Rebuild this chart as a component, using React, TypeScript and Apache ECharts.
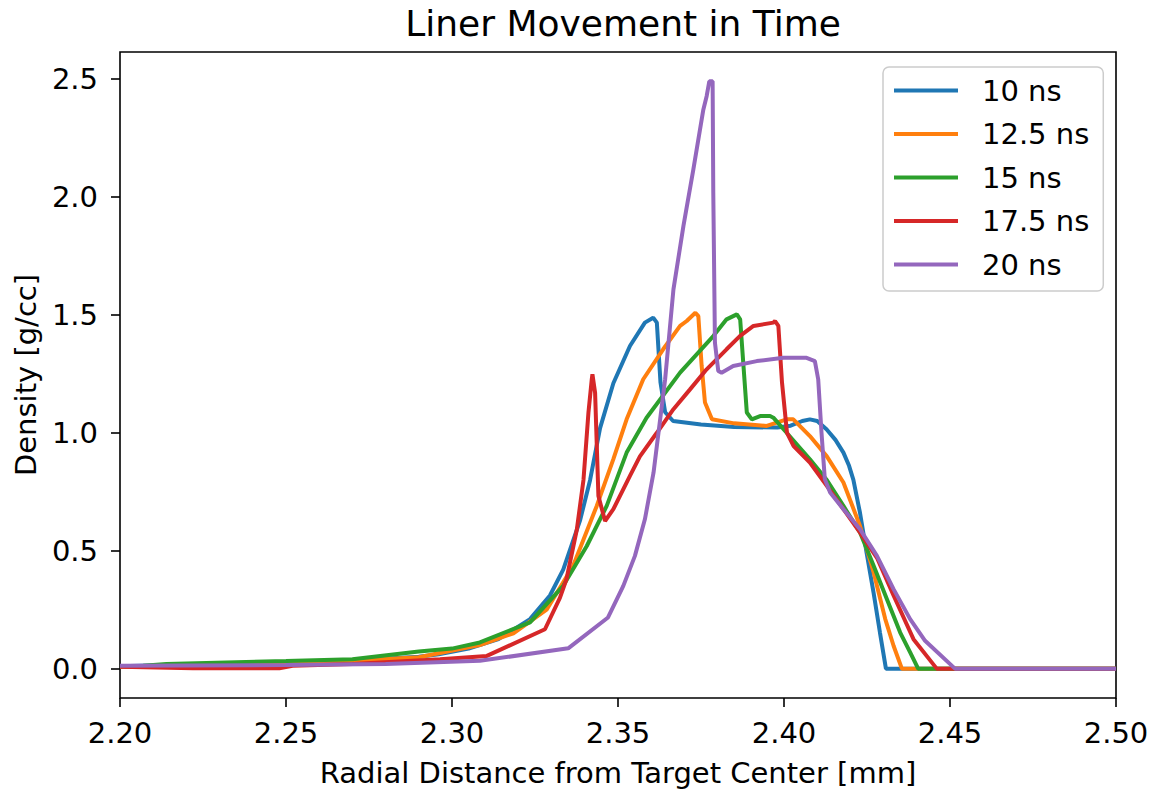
import React, { useEffect, useRef } from "react";
import * as echarts from "echarts";

const seriesNames = ["10 ns", "12.5 ns", "15 ns", "17.5 ns", "20 ns"];
const seriesColors = ["#1f77b4", "#ff7f0e", "#2ca02c", "#d62728", "#9467bd"];

const xTicks = [2.2, 2.25, 2.3, 2.35, 2.4, 2.45, 2.5];
const yTicks = [0, 0.5, 1.0, 1.5, 2.0, 2.5];

const x10 = [2.2, 2.215, 2.25, 2.27, 2.29, 2.296, 2.305, 2.314, 2.3235, 2.3295, 2.3335, 2.3386, 2.3416, 2.3446, 2.3486, 2.3536, 2.3581, 2.3606, 2.3617, 2.3628, 2.3642, 2.3666, 2.375, 2.385, 2.398, 2.402, 2.4055, 2.4078, 2.41, 2.4128, 2.4155, 2.4179, 2.4196, 2.4209, 2.4229, 2.4249, 2.427, 2.4289, 2.4307, 2.5];
const y10 = [0.01, 0.015, 0.025, 0.035, 0.05, 0.061, 0.085, 0.125, 0.21, 0.31, 0.42, 0.63, 0.8, 1.02, 1.21, 1.368, 1.467, 1.488, 1.467, 1.213, 1.087, 1.05, 1.035, 1.025, 1.022, 1.03, 1.05, 1.057, 1.05, 1.015, 0.97, 0.916, 0.86, 0.8, 0.66, 0.49, 0.32, 0.153, 0.0, 0.0];

const x125 = [2.2, 2.215, 2.25, 2.27, 2.29, 2.3084, 2.3185, 2.3285, 2.3365, 2.3436, 2.3486, 2.3526, 2.3576, 2.3636, 2.3687, 2.3707, 2.3733, 2.3742, 2.3752, 2.3762, 2.3783, 2.385, 2.3948, 2.4008, 2.4028, 2.4078, 2.4129, 2.4179, 2.4229, 2.427, 2.4305, 2.433, 2.4355, 2.5];
const y125 = [0.008, 0.013, 0.025, 0.033, 0.048, 0.1, 0.15, 0.25, 0.436, 0.69, 0.888, 1.057, 1.227, 1.354, 1.453, 1.474, 1.509, 1.495, 1.283, 1.128, 1.057, 1.04, 1.029, 1.057, 1.057, 0.986, 0.9, 0.789, 0.605, 0.408, 0.21, 0.097, 0.0, 0.0];

const x15 = [2.2, 2.207, 2.214, 2.25, 2.27, 2.29, 2.3, 2.3084, 2.3235, 2.3335, 2.3406, 2.3466, 2.3526, 2.3586, 2.3687, 2.3787, 2.3827, 2.3858, 2.3868, 2.3878, 2.3888, 2.3903, 2.3928, 2.3958, 2.3968, 2.4008, 2.4078, 2.4129, 2.4179, 2.4229, 2.427, 2.431, 2.435, 2.438, 2.4404, 2.5];
const y15 = [0.01, 0.012, 0.02, 0.032, 0.04, 0.073, 0.085, 0.111, 0.196, 0.351, 0.52, 0.69, 0.916, 1.064, 1.255, 1.41, 1.481, 1.502, 1.481, 1.283, 1.086, 1.057, 1.071, 1.071, 1.064, 1.0, 0.888, 0.8, 0.69, 0.577, 0.436, 0.294, 0.153, 0.069, 0.0, 0.0];

const x175 = [2.2, 2.222, 2.248, 2.252, 2.27, 2.2964, 2.3105, 2.328, 2.3325, 2.3345, 2.3376, 2.3396, 2.3411, 2.3421, 2.3423, 2.3431, 2.3441, 2.3461, 2.3486, 2.3536, 2.3566, 2.3617, 2.3667, 2.3717, 2.3767, 2.3827, 2.3867, 2.3908, 2.3968, 2.3973, 2.3983, 2.3994, 2.4009, 2.4029, 2.4078, 2.4129, 2.4179, 2.4229, 2.428, 2.433, 2.439, 2.446, 2.5];
const y175 = [0.008, 0.002, 0.002, 0.012, 0.02, 0.04, 0.054, 0.167, 0.3, 0.38, 0.59, 0.8, 1.086, 1.227, 1.248, 1.17, 0.732, 0.626, 0.676, 0.817, 0.9, 1.0, 1.1, 1.184, 1.269, 1.354, 1.41, 1.453, 1.467, 1.474, 1.453, 1.213, 1.0, 0.944, 0.874, 0.775, 0.676, 0.577, 0.47, 0.31, 0.125, 0.0, 0.0];

const x20 = [2.2, 2.25, 2.28, 2.3084, 2.335, 2.347, 2.3516, 2.3551, 2.3581, 2.3607, 2.3627, 2.3642, 2.3667, 2.3697, 2.3727, 2.3757, 2.3767, 2.3775, 2.3785, 2.3787, 2.3792, 2.3802, 2.3812, 2.3847, 2.3918, 2.3998, 2.4068, 2.4093, 2.4103, 2.4113, 2.4123, 2.4139, 2.4179, 2.4229, 2.428, 2.433, 2.438, 2.4425, 2.4515, 2.5];
const y20 = [0.012, 0.015, 0.02, 0.033, 0.086, 0.217, 0.351, 0.478, 0.633, 0.831, 1.057, 1.227, 1.608, 1.876, 2.117, 2.37, 2.427, 2.49, 2.49, 2.018, 1.382, 1.262, 1.255, 1.283, 1.304, 1.318, 1.318, 1.304, 1.227, 1.0, 0.803, 0.747, 0.676, 0.591, 0.478, 0.337, 0.21, 0.118, 0.0, 0.0];

const allX = [x10, x125, x15, x175, x20];
const allY = [y10, y125, y15, y175, y20];

const FONT = "DejaVu Sans";

export default function App() {
  const ref = useRef<HTMLDivElement>(null);
  useEffect(() => {
    if (!ref.current) return;
    const chart = echarts.init(ref.current, null, { renderer: "svg" });
    const series = seriesNames.map((name, i) => ({
      name,
      type: "line",
      data: allX[i].map((x, j) => [x, allY[i][j]]),
      showSymbol: false,
      symbol: "none",
      lineStyle: { width: 4, color: seriesColors[i] },
      itemStyle: { color: seriesColors[i] },
      z: 2 + i,
    }));
    chart.setOption({
      animation: false,
      backgroundColor: "#ffffff",
      textStyle: { fontFamily: FONT },
      title: {
        text: "Liner Movement in Time",
        left: 618,
        textAlign: "center",
        top: 0,
        textStyle: { fontFamily: FONT, fontSize: 36, fontWeight: "normal", color: "#000" },
      },
      grid: {
        left: 120,
        right: 38,
        top: 52,
        bottom: 95,
        show: true,
        borderColor: "#000",
        borderWidth: 1.6,
        backgroundColor: "transparent",
      },
      legend: {
        orient: "vertical",
        left: 883,
        top: 67,
        icon: "rect",
        itemWidth: 64,
        itemHeight: 4,
        itemGap: 14.5,
        padding: [9, 14, 12, 11],
        backgroundColor: "rgba(255,255,255,0.8)",
        borderColor: "#cccccc",
        borderWidth: 1.5,
        borderRadius: 6,
        textStyle: {
          fontFamily: FONT,
          fontSize: 29,
          lineHeight: 29,
          color: "#000",
          padding: [0, 0, 0, 19],
        },
        data: seriesNames,
      },
      xAxis: {
        type: "value",
        min: 2.2,
        max: 2.5,
        name: "Radial Distance from Target Center [mm]",
        nameLocation: "middle",
        nameGap: 60,
        nameTextStyle: { fontFamily: FONT, fontSize: 29, color: "#000" },
        axisLine: { show: false, onZero: false },
        axisTick: {
          show: true,
          length: 9,
          customValues: xTicks,
          lineStyle: { color: "#000", width: 1.6 },
        },
        axisLabel: {
          customValues: xTicks,
          margin: 20,
          fontFamily: FONT,
          fontSize: 29,
          color: "#000",
          formatter: (v: number) => v.toFixed(2),
        },
        splitLine: { show: false },
      },
      yAxis: {
        type: "value",
        min: -0.1245,
        max: 2.6145,
        name: "Density [g/cc]",
        nameLocation: "middle",
        nameGap: 80,
        nameRotate: 90,
        nameTextStyle: { fontFamily: FONT, fontSize: 29, color: "#000" },
        axisLine: { show: false, onZero: false },
        axisTick: {
          show: true,
          length: 9,
          customValues: yTicks,
          lineStyle: { color: "#000", width: 1.6 },
        },
        axisLabel: {
          customValues: yTicks,
          margin: 22,
          fontFamily: FONT,
          fontSize: 29,
          color: "#000",
          formatter: (v: number) => v.toFixed(1),
        },
        splitLine: { show: false },
      },
      series,
    });
    return () => chart.dispose();
  }, []);
  return (
    <div
      ref={ref}
      style={{ position: "fixed", left: 0, top: 0, width: 1154, height: 793 }}
    />
  );
}
